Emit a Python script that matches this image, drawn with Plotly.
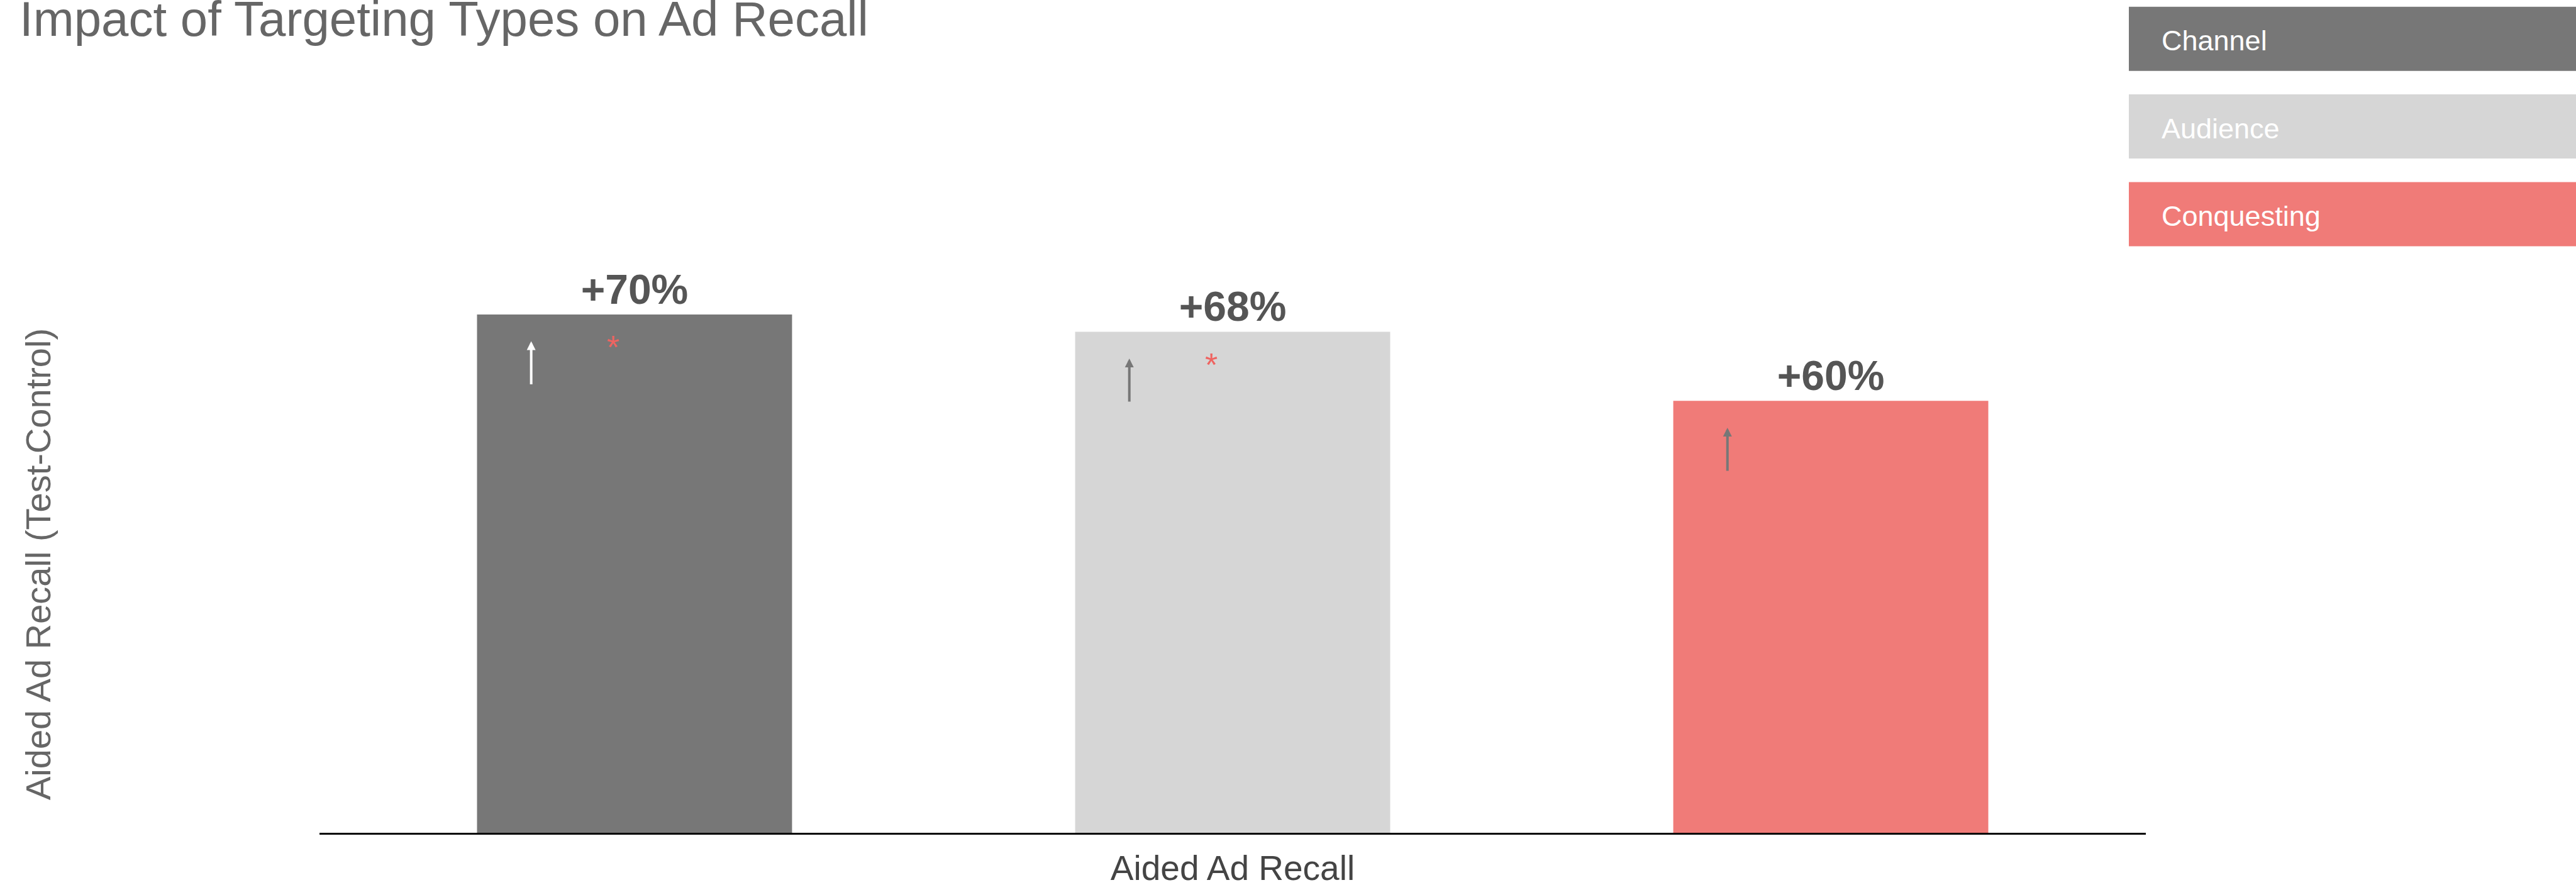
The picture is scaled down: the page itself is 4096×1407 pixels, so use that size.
import plotly.graph_objects as go

# Lift in aided ad recall (test minus control), by targeting type
targeting_types = ["Channel", "Audience", "Conquesting"]
lift_values = [70, 68, 60]
bar_colors = ["#777777", "#d6d6d6", "#f07b78"]
arrow_colors = ["#ffffff", "#777777", "#777777"]
significant = [True, True, False]
metric = ["Aided Ad Recall"]

W, H = 4096, 1407
M_L, M_R, M_T, M_B = 508, 684, 88, 83
Y_RANGE = [10, 100]
BARGAP, GROUPGAP = 0.0175, 0.4733

FONT = "Liberation Sans, Arial, Helvetica, sans-serif"

PLOT_W = W - M_L - M_R
PLOT_H = H - M_T - M_B


def paper_x(px):
    return (px - M_L) / PLOT_W


def paper_y(py):
    return (H - M_B - py) / PLOT_H


fig = go.Figure()
for name, val, col in zip(targeting_types, lift_values, bar_colors):
    fig.add_trace(go.Bar(
        name=name,
        x=metric,
        y=[val],
        marker=dict(color=col, line=dict(width=0)),
        text=[f"+{val}%"],
        textposition="outside",
        textfont=dict(family=FONT, size=66, color="#555555", weight="bold"),
        showlegend=False,
        hoverinfo="skip",
    ))

# arrows and significance stars inside each bar
n = len(targeting_types)
slot = (1 - BARGAP) / n
bar_w = slot * (1 - GROUPGAP)
for i, (val, acol, sig) in enumerate(zip(lift_values, arrow_colors, significant)):
    center = (i - (n - 1) / 2) * slot
    left = center - bar_w / 2
    fig.add_annotation(
        x=left + 0.172 * bar_w, y=val - 3.1, xref="x", yref="y",
        ax=0, ay=70, text="", showarrow=True,
        arrowhead=2, arrowsize=0.7, arrowwidth=4, arrowcolor=acol,
    )
    if sig:
        fig.add_annotation(
            x=left + 0.433 * bar_w, y=val - 3.5, xref="x", yref="y",
            text="*", showarrow=False, yanchor="middle", yshift=-4,
            font=dict(family=FONT, size=52, color="#ef6461"),
        )

# legend: full-width colour bands at the top right
BOX_LEFT, BOX_RIGHT, BOX_TOP, BOX_H, BOX_STEP = 3385, 4100, 10.8, 102, 139.3
for i, (name, col) in enumerate(zip(targeting_types, bar_colors)):
    top = BOX_TOP + i * BOX_STEP
    fig.add_shape(
        type="rect", xref="paper", yref="paper",
        x0=paper_x(BOX_LEFT), x1=paper_x(BOX_RIGHT),
        y0=paper_y(top + BOX_H), y1=paper_y(top),
        fillcolor=col, line=dict(width=0), layer="above",
    )
    fig.add_annotation(
        xref="paper", yref="paper",
        x=paper_x(3435), y=paper_y(top + BOX_H / 2 + 3),
        xanchor="left", yanchor="middle", showarrow=False,
        text=name, font=dict(family=FONT, size=45, color="#ffffff"),
    )

# vertical axis title
fig.add_annotation(
    xref="paper", yref="paper", x=paper_x(60), y=paper_y(897),
    xanchor="center", yanchor="middle", showarrow=False, textangle=-90,
    text="Aided Ad Recall (Test-Control)",
    font=dict(family=FONT, size=56, color="#666666"),
)

fig.update_layout(
    width=W, height=H,
    margin=dict(l=M_L, r=M_R, t=M_T, b=M_B, pad=0, autoexpand=False),
    paper_bgcolor="#ffffff", plot_bgcolor="#ffffff",
    barmode="group", bargap=BARGAP, bargroupgap=GROUPGAP,
    title=dict(
        text="Impact of Targeting Types on Ad Recall",
        x=31 / W, xanchor="left", xref="container",
        y=1, yanchor="top", yref="container", pad=dict(t=2),
        font=dict(family=FONT, size=78, color="#666666"),
        automargin=False,
    ),
    xaxis=dict(
        type="category", range=[-0.5, 0.5], automargin=False,
        showline=True, linecolor="#000000", linewidth=3,
        ticks="", showgrid=False, zeroline=False,
        tickfont=dict(family=FONT, size=55, color="#444444"),
        ticklabelstandoff=6,
    ),
    yaxis=dict(
        range=Y_RANGE, automargin=False, showticklabels=False, showgrid=False,
        zeroline=False, showline=False, ticks="",
    ),
    showlegend=False,
)

fig.write_html("out.html")
